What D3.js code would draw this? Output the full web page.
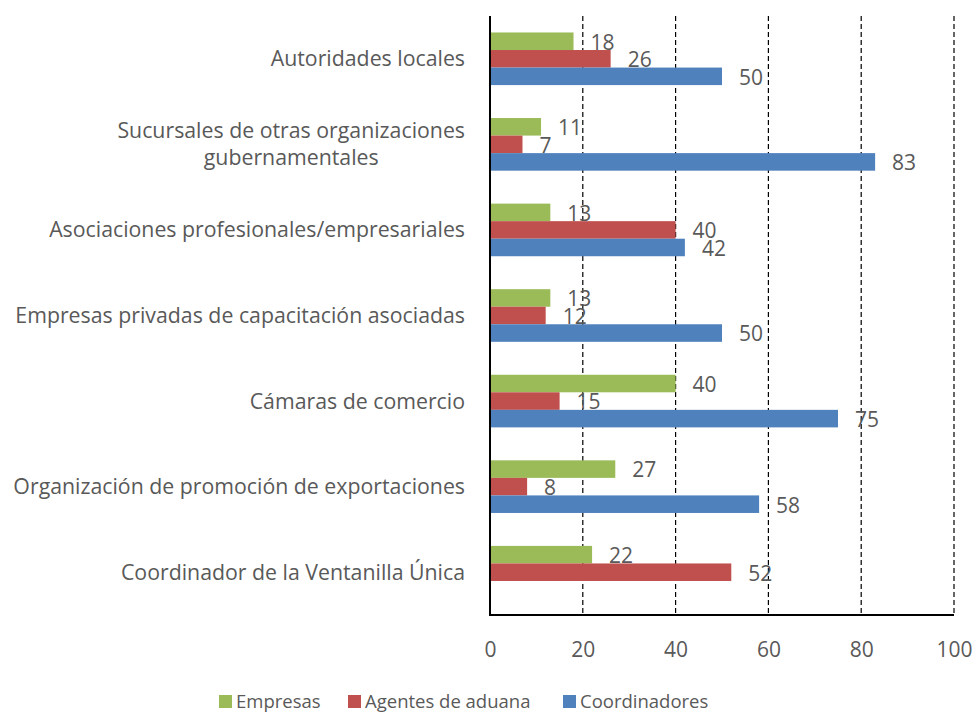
<!DOCTYPE html>
<html><head><meta charset="utf-8">
<script src="https://cdn.jsdelivr.net/npm/d3@7"></script>
<style>body{margin:0;background:#fff}svg{display:block}text{font-family:"Open Sans","Noto Sans",sans-serif;fill:#595959}</style>
</head><body>
<svg id="c" width="973" height="715"></svg>
<script>
const categories = [
  ["Autoridades locales"],
  ["Sucursales de otras organizaciones", "gubernamentales"],
  ["Asociaciones profesionales/empresariales"],
  ["Empresas privadas de capacitación asociadas"],
  ["Cámaras de comercio"],
  ["Organización de promoción de exportaciones"],
  ["Coordinador de la Ventanilla Única"]
];
const seriesNames = ["Empresas", "Agentes de aduana", "Coordinadores"];
const empresas = [18, 11, 13, 13, 40, 27, 22];
const agentes = [26, 7, 40, 12, 15, 8, 52];
const coordinadores = [50, 83, 42, 50, 75, 58, null];
const colors = ["#9BBB59", "#C0504D", "#4F81BD"];
const xTicks = [0, 20, 40, 60, 80, 100];

const series = [empresas, agentes, coordinadores];
const svg = d3.select("#c");
const m = {left: 490, right: 954, top: 16, bottom: 615};
const x = d3.scaleLinear().domain([0, 100]).range([m.left, m.right]);
const y0 = d3.scaleBand().domain(d3.range(categories.length)).range([m.top, m.bottom]).paddingInner(0.385).paddingOuter(0.1925);
const y1 = d3.scaleBand().domain(d3.range(series.length)).range([0, y0.bandwidth()]);

// gridlines
svg.append("g").selectAll("line").data(xTicks.filter(d => d > 0)).join("line")
  .attr("x1", d => x(d)).attr("x2", d => x(d)).attr("y1", m.top).attr("y2", m.bottom)
  .attr("stroke", "#000").attr("stroke-width", 1.2).attr("stroke-dasharray", "5,3");

// bars
const rows = [];
series.forEach((s, si) => s.forEach((v, ci) => { if (v != null) rows.push({si, ci, v}); }));
svg.append("g").selectAll("rect").data(rows).join("rect")
  .attr("x", x(0)).attr("y", d => y0(d.ci) + y1(d.si))
  .attr("width", d => x(d.v) - x(0)).attr("height", y1.bandwidth())
  .attr("fill", d => colors[d.si]);

// value labels
svg.append("g").selectAll("text").data(rows).join("text")
  .attr("x", d => x(d.v) + 17).attr("y", d => y0(d.ci) + y1(d.si) + y1.bandwidth() / 2 + 1)
  .attr("dy", "0.35em").attr("font-size", 21).text(d => d.v);

// axes lines
svg.append("line").attr("x1", x(0)).attr("x2", x(0)).attr("y1", m.top).attr("y2", m.bottom + 1)
  .attr("stroke", "#000").attr("stroke-width", 2);
svg.append("line").attr("x1", x(0) - 1).attr("x2", x(100)).attr("y1", m.bottom).attr("y2", m.bottom)
  .attr("stroke", "#000").attr("stroke-width", 2);

// x tick labels
const xAxis = d3.axisBottom(x).tickValues(xTicks).tickSize(0).tickPadding(27);
const gx = svg.append("g").attr("transform", `translate(0,${m.bottom})`).call(xAxis);
gx.select(".domain").remove();
gx.selectAll("text").attr("font-size", 21).attr("font-family", null).attr("fill", "#595959");

// category labels
const cat = svg.append("g").selectAll("text").data(categories).join("text")
  .attr("font-size", 21.3)
  .attr("y", (d, i) => y0(i) + y0.bandwidth() / 2);
cat.each(function(lines) {
  const t = d3.select(this);
  const n = lines.length;
  if (n === 1) {
    t.attr("x", 465).attr("text-anchor", "end").attr("dy", "0.35em").text(lines[0]);
  } else {
    t.attr("text-anchor", "middle");
    lines.forEach((l, k) => {
      t.append("tspan").attr("x", 0).attr("dy", k === 0 ? (0.35 - (n - 1) * 0.635) + "em" : "1.27em").text(l);
    });
    const first = t.select("tspan").node().getComputedTextLength();
    t.selectAll("tspan").attr("x", 465 - first / 2);
  }
});

// legend
const legendX = [219, 348, 563];
const lg = svg.append("g").selectAll("g").data(seriesNames).join("g")
  .attr("transform", (d, i) => `translate(${legendX[i]},695)`);
lg.append("rect").attr("width", 13).attr("height", 13).attr("fill", (d, i) => colors[i]);
lg.append("text").attr("x", 17).attr("y", 6.5).attr("dy", "0.35em").attr("font-size", 18.5).text(d => d);
</script>
</body></html>
